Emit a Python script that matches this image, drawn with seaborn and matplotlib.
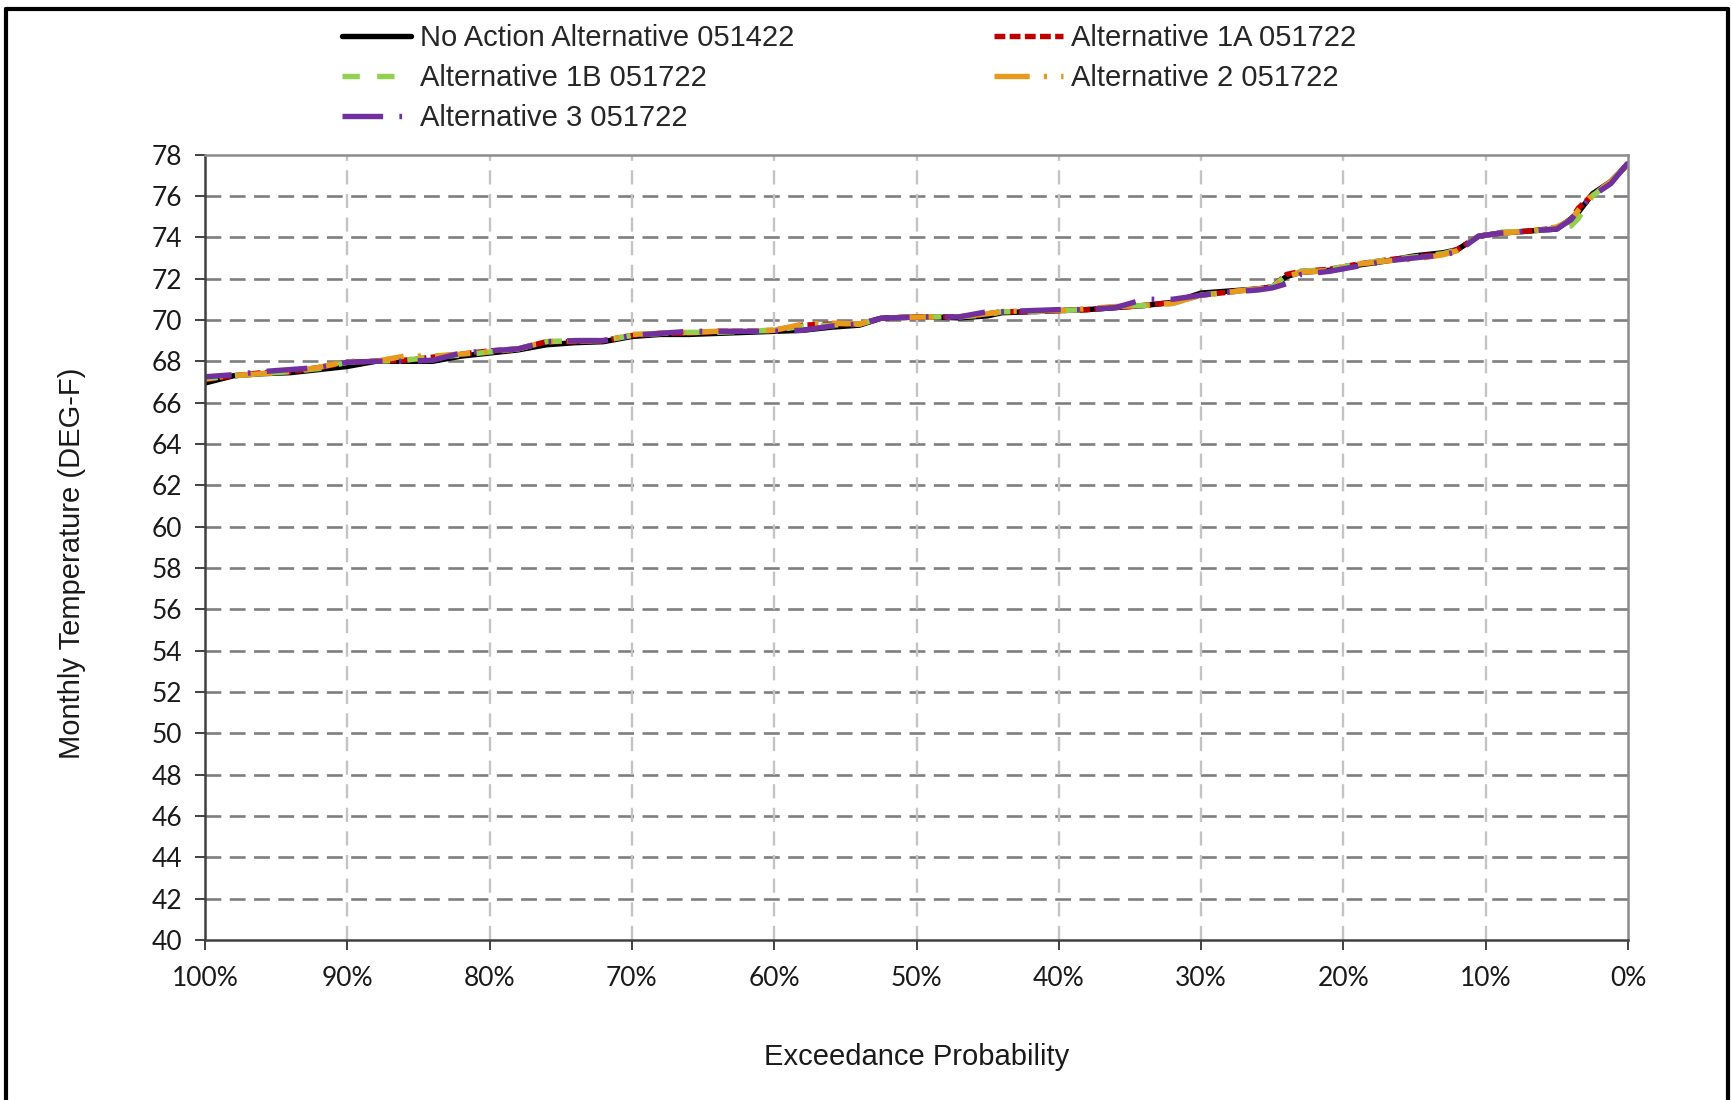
import matplotlib
matplotlib.use("Agg")
import matplotlib.pyplot as plt
import seaborn as sns
import pandas as pd
from matplotlib.lines import Line2D
from matplotlib.ticker import FuncFormatter

# ---- data ----
exceedance = [100, 98, 96, 94, 92, 90, 88, 86, 84, 82, 80, 78, 76, 74, 72, 70, 68, 66, 64, 62,
              60, 58, 56, 54, 52.5, 51, 49, 47, 45, 44, 42, 40, 38, 36, 34, 32, 30, 28, 26, 25,
              24, 23, 21, 19, 17, 15, 13, 12, 10.5, 9, 7, 5, 4, 3.5, 2.5, 1.2, 0]

no_action = [66.95, 67.3, 67.4, 67.45, 67.6, 67.75, 68.0, 68.0, 68.0, 68.25, 68.4, 68.55, 68.8, 68.9,
             68.95, 69.2, 69.3, 69.3, 69.35, 69.4, 69.45, 69.5, 69.65, 69.75, 70.08, 70.12, 70.15,
             70.1, 70.2, 70.35, 70.4, 70.45, 70.5, 70.6, 70.7, 70.85, 71.3, 71.4, 71.5, 71.6, 72.1,
             72.3, 72.4, 72.65, 72.85, 73.1, 73.25, 73.4, 74.05, 74.2, 74.3, 74.4, 74.9, 75.2, 76.1,
             76.7, 77.55]

alt_1a = [67.1, 67.3, 67.45, 67.5, 67.7, 67.95, 68.0, 68.05, 68.2, 68.35, 68.5, 68.6, 68.95, 68.95,
          69.0, 69.25, 69.35, 69.35, 69.45, 69.45, 69.5, 69.75, 69.8, 69.8, 70.08, 70.12, 70.15,
          70.15, 70.3, 70.4, 70.4, 70.45, 70.5, 70.6, 70.7, 70.85, 71.2, 71.35, 71.5, 71.6, 72.2,
          72.35, 72.45, 72.7, 72.9, 73.05, 73.2, 73.4, 74.05, 74.2, 74.3, 74.45, 74.85, 75.4, 76.05,
          76.7, 77.55]

alt_1b = [67.15, 67.3, 67.4, 67.5, 67.65, 67.95, 68.0, 68.05, 68.2, 68.3, 68.45, 68.6, 68.95, 69.0,
          69.0, 69.25, 69.35, 69.4, 69.4, 69.45, 69.5, 69.7, 69.75, 69.8, 70.08, 70.12, 70.15,
          70.15, 70.25, 70.4, 70.4, 70.45, 70.5, 70.65, 70.7, 70.8, 71.2, 71.35, 71.5, 71.6, 72.15,
          72.35, 72.45, 72.7, 72.9, 73.05, 73.2, 73.4, 74.05, 74.25, 74.3, 74.4, 74.55, 74.9, 76.0,
          76.7, 77.55]

alt_2 = [67.2, 67.3, 67.4, 67.5, 67.7, 68.0, 68.0, 68.25, 68.25, 68.35, 68.45, 68.6, 68.95, 69.0,
         69.0, 69.3, 69.35, 69.4, 69.45, 69.45, 69.5, 69.8, 69.85, 69.8, 70.08, 70.12, 70.15,
         70.15, 70.3, 70.4, 70.45, 70.45, 70.55, 70.65, 70.7, 70.8, 71.2, 71.35, 71.5, 71.6, 72.1,
         72.3, 72.4, 72.7, 72.85, 72.95, 73.15, 73.35, 74.05, 74.2, 74.3, 74.5, 74.85, 75.3, 76.05,
         76.7, 77.55]

alt_3 = [67.25, 67.35, 67.5, 67.6, 67.7, 67.95, 68.0, 68.0, 68.05, 68.4, 68.5, 68.6, 68.95, 69.0,
         69.0, 69.25, 69.35, 69.45, 69.45, 69.45, 69.45, 69.5, 69.7, 69.8, 70.08, 70.12, 70.15,
         70.15, 70.4, 70.4, 70.45, 70.5, 70.5, 70.6, 71.0, 71.0, 71.2, 71.35, 71.45, 71.55, 71.75,
         72.2, 72.35, 72.6, 72.85, 73.0, 73.15, 73.3, 74.05, 74.2, 74.3, 74.4, 74.85, 75.3, 76.0,
         76.6, 77.6]

series_names = ["No Action Alternative 051422", "Alternative 1A 051722", "Alternative 1B 051722",
                "Alternative 2 051722", "Alternative 3 051722"]
series_values = [no_action, alt_1a, alt_1b, alt_2, alt_3]

x_ticks = [100, 90, 80, 70, 60, 50, 40, 30, 20, 10, 0]
y_ticks = list(range(40, 79, 2))

# ---- styling ----
sns.set_style("white")
plt.rcParams["font.family"] = ["Liberation Sans", "DejaVu Sans"]

colors = {series_names[0]: "#000000", series_names[1]: "#C00000", series_names[2]: "#92D050",
          series_names[3]: "#E69A1E", series_names[4]: "#7030A0"}
dashes = {series_names[0]: "", series_names[1]: (2.0, 0.8), series_names[2]: (3.2, 3.2),
          series_names[3]: (6.5, 2.6, 0.6, 2.6), series_names[4]: (7.5, 3.0, 0.5, 3.0)}

rows = []
for name, vals in zip(series_names, series_values):
    for x, v in zip(exceedance, vals):
        rows.append({"Exceedance": x, "Temp": v, "Series": name})
df = pd.DataFrame(rows)

W, H = 1732, 1100
fig = plt.figure(figsize=(W / 100, H / 100), dpi=100)
ax = fig.add_axes([205 / W, 1 - 940 / H, (1628 - 205) / W, (940 - 154.6) / H])

# grid
ax.set_axisbelow(True)
for y in y_ticks[1:-1]:
    ax.axhline(y, color="#7f7f7f", lw=1.9, ls=(0, (6, 3.2)), zorder=0)
for x in x_ticks[1:-1]:
    ax.axvline(x, color="#C4C4C4", lw=1.7, ls=(0, (6, 4)), zorder=0)

sns.lineplot(data=df, x="Exceedance", y="Temp", hue="Series", style="Series",
             hue_order=series_names, style_order=series_names,
             palette=colors, dashes=dashes, lw=3.9, estimator=None, ax=ax, legend=True)

ax.set_xlim(100, 0)
ax.set_ylim(40, 78)
ax.set_xticks(x_ticks)
ax.set_yticks(y_ticks)
ax.xaxis.set_major_formatter(FuncFormatter(lambda v, p: f"{int(round(v))}%"))

for side in ["left", "bottom"]:
    ax.spines[side].set_color("#404040")
    ax.spines[side].set_linewidth(1.8)
for side in ["top", "right"]:
    ax.spines[side].set_color("#8c8c8c")
    ax.spines[side].set_linewidth(1.8)

ax.tick_params(axis="both", which="major", direction="out", length=7, width=1.4,
               color="#404040", labelcolor="#1a1a1a", labelsize=19)
ax.tick_params(axis="y", pad=9.5)
ax.tick_params(axis="x", pad=12)
ax.tick_params(left=True, bottom=True)
for lbl in ax.get_xticklabels() + ax.get_yticklabels():
    lbl.set_fontfamily(["Lato", "DejaVu Sans"])

ax.set_xlabel("Exceedance Probability", fontsize=21, color="#1a1a1a")
ax.set_ylabel("Monthly Temperature (DEG-F)", fontsize=21, color="#1a1a1a")
ax.xaxis.set_label_coords(0.5, -0.131)
ax.yaxis.set_label_coords(-0.0836, 0.48)

# legend (row-major order in 2 columns)
handles, labels = ax.get_legend_handles_labels()
hmap = dict(zip(labels, handles))
order = [series_names[0], series_names[2], series_names[4], series_names[1], series_names[3]]
ax.get_legend().remove()
fig.legend([hmap[n] for n in order], order, ncol=2, loc="upper left",
           bbox_to_anchor=(342 / W, 1 - 24 / H), frameon=False, fontsize=21,
           handlelength=2.36, handletextpad=0.3, columnspacing=6.85, labelspacing=0.41,
           borderpad=0, borderaxespad=0)

# figure border (top, left, right)
border_kw = dict(color="black", lw=3, transform=fig.transFigure)
fig.add_artist(Line2D([6 / W, 1728 / W], [1 - 9 / H, 1 - 9 / H], **border_kw))
fig.add_artist(Line2D([6 / W, 6 / W], [0, 1 - 9 / H], **border_kw))
fig.add_artist(Line2D([1728 / W, 1728 / W], [0, 1 - 9 / H], **border_kw))

fig.savefig("out.png", dpi=100, facecolor="white")
